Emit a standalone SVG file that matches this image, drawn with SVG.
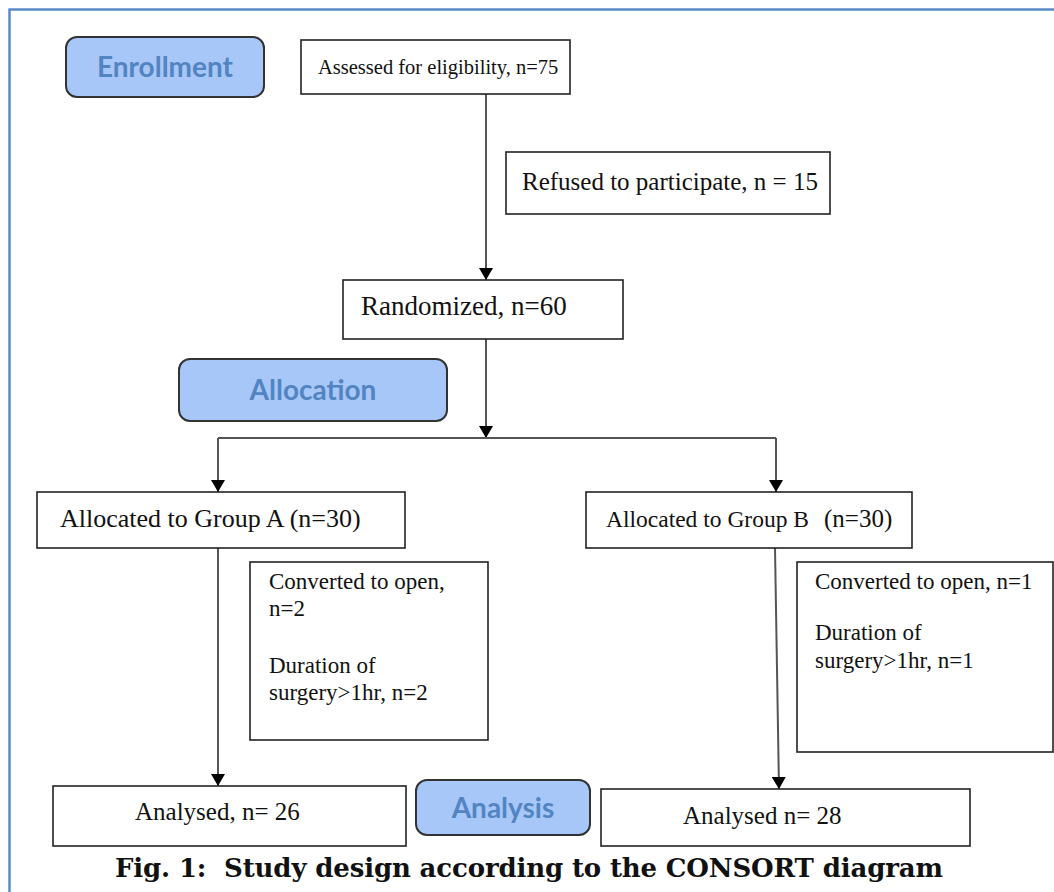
<svg xmlns="http://www.w3.org/2000/svg" width="1054" height="892" viewBox="0 0 1054 892">
<style>
.box{fill:#fff;stroke:#222;stroke-width:1.6}
.btn{fill:#a8c7f9;stroke:#333;stroke-width:2}
.btxt{font-family:Lato,"Open Sans",sans-serif;font-weight:bold;font-size:28px;fill:#5284c2;text-anchor:middle}
.t{font-family:"Liberation Serif","Times New Roman",serif;font-size:25px;fill:#111}
.s{font-family:"Liberation Serif","Times New Roman",serif;font-size:23px;fill:#111}
.ln{stroke:#555;stroke-width:2;fill:none}
.cap{font-family:"DejaVu Serif",serif;font-weight:bold;font-size:26px;fill:#111}
</style>
<defs>
<marker id="ah" markerWidth="12" markerHeight="14" refX="12" refY="7" orient="auto" markerUnits="userSpaceOnUse">
<path d="M0,0 L12,7 L0,14 Z" fill="#000"/>
</marker>
</defs>
<rect x="0" y="0" width="1054" height="892" fill="#fff"/>
<path d="M9.5,892 V9.5 H1054" fill="none" stroke="#5b8ac8" stroke-width="2.5"/>

<g id="connectors">
<line class="ln" x1="486" y1="94" x2="486" y2="280" marker-end="url(#ah)"/>
<line class="ln" x1="486" y1="339" x2="486" y2="438" marker-end="url(#ah)"/>
<line class="ln" x1="218" y1="438" x2="776" y2="438"/>
<line class="ln" x1="218" y1="438" x2="218" y2="492" marker-end="url(#ah)"/>
<line class="ln" x1="776" y1="438" x2="776" y2="492" marker-end="url(#ah)"/>
<line class="ln" x1="218" y1="548" x2="218" y2="786" marker-end="url(#ah)"/>
<line class="ln" x1="775" y1="548" x2="779" y2="789" marker-end="url(#ah)"/>
</g>

<g id="enrollment"><rect class="btn" x="66" y="37" width="198" height="60" rx="11"/><text class="btxt" x="165" y="77">Enrollment</text></g>
<g id="assessed"><rect class="box" x="301" y="40" width="269" height="54"/><text class="t" x="318" y="74" style="font-size:20.5px">Assessed for eligibility, n=75</text></g>
<g id="refused"><rect class="box" x="506" y="152" width="324" height="62"/><text class="t" x="522" y="190">Refused to participate, n = 15</text></g>
<g id="randomized"><rect class="box" x="343" y="280" width="280" height="59"/><text class="t" x="361" y="315" style="font-size:27px">Randomized, n=60</text></g>
<g id="allocation"><rect class="btn" x="179" y="359" width="268" height="62" rx="11"/><text class="btxt" x="313" y="400">Allocation</text></g>
<g id="groupA"><rect class="box" x="37" y="492" width="368" height="56"/><text class="t" x="60" y="527" style="font-size:26px">Allocated to Group A (n=30)</text></g>
<g id="groupB"><rect class="box" x="586" y="492" width="326" height="56"/><text class="t" x="606" y="527" style="font-size:23.5px">Allocated to Group B<tspan x="824" style="font-size:25px">(n=30)</tspan></text></g>
<g id="excludedA"><rect class="box" x="250" y="562" width="238" height="178"/>
<text class="s" x="269" y="589">Converted to open,</text>
<text class="s" x="269" y="616">n=2</text>
<text class="s" x="269" y="673">Duration of</text>
<text class="s" x="269" y="700">surgery&gt;1hr, n=2</text></g>
<g id="excludedB"><rect class="box" x="797" y="562" width="256" height="190"/>
<text class="s" x="815" y="589">Converted to open, n=1</text>
<text class="s" x="815" y="640">Duration of</text>
<text class="s" x="815" y="668">surgery&gt;1hr, n=1</text></g>
<g id="analysedA"><rect class="box" x="53" y="786" width="353" height="60"/><text class="t" x="135" y="820">Analysed, n= 26</text></g>
<g id="analysis"><rect class="btn" x="416" y="780" width="174" height="55" rx="11"/><text class="btxt" x="503" y="818">Analysis</text></g>
<g id="analysedB"><rect class="box" x="601" y="789" width="369" height="57"/><text class="t" x="683" y="824">Analysed n= 28</text></g>
<text class="cap" x="115" y="877" textLength="828" lengthAdjust="spacing" xml:space="preserve">Fig. 1:  Study design according to the CONSORT diagram</text>
</svg>
